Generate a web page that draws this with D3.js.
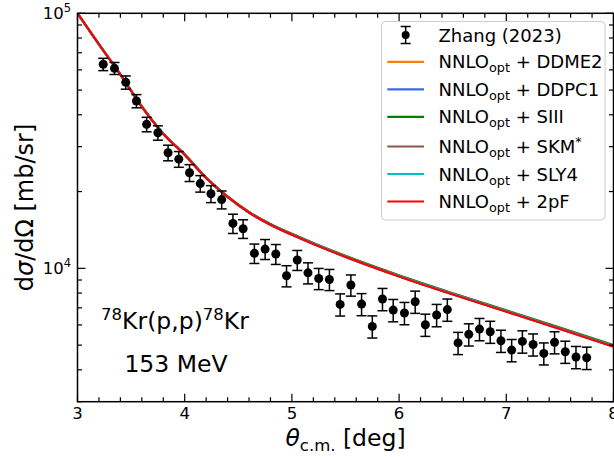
<!DOCTYPE html>
<html><head><meta charset="utf-8">
<script src="https://cdn.jsdelivr.net/npm/d3@7"></script>
<style>
html,body{margin:0;padding:0;background:#fff;overflow:hidden}
svg{display:block;font-family:"DejaVu Sans",sans-serif}
</style></head>
<body><svg id="c" width="614" height="457"></svg>
<script>
// ---- data ----
const expAngle = [3.24,3.345,3.45,3.55,3.645,3.75,3.845,3.945,4.045,4.145,4.245,4.345,4.45,4.545,4.65,4.75,4.85,4.95,5.05,5.15,5.25,5.35,5.45,5.55,5.65,5.75,5.845,5.945,6.05,6.15,6.245,6.35,6.45,6.55,6.65,6.75,6.85,6.95,7.05,7.15,7.25,7.35,7.45,7.55,7.65,7.75];
const expXs = [63100,60850,53600,45300,36700,34000,28400,26800,23700,21500,19600,18600,15000,14300,11450,11900,11380,9350,10780,9600,9120,9040,7220,8600,7240,5920,7580,6860,6680,7400,6010,6560,6890,5100,5510,5780,5640,5200,4780,5170,5030,4640,5130,4710,4490,4460];
const expErr = [3500,3300,3200,2700,2400,2200,2000,1900,1800,1600,1500,1500,1300,1200,1000,1070,1020,890,970,910,870,860,720,820,720,590,760,690,670,740,600,660,690,510,550,580,560,520,480,520,500,460,510,470,450,450];

const thAngle = [3.0,3.2,3.4,3.6,3.8,4.0,4.2,4.4,4.6,4.8,5.0,5.2,5.5,6.0,6.5,7.0,7.5,8.0];
const xsDDME2 = [100000,75600,57600,43100,33700,27950,22650,19100,16600,14880,13600,12520,11140,9340,7940,6800,5810,4960];
const xsDDPC1 = [100000,75400,57400,42950,33600,27850,22550,19000,16500,14800,13530,12460,11080,9300,7910,6770,5790,4940];
const xsSIII  = [100000,75700,57700,43200,33800,28000,22700,19150,16650,14930,13650,12570,11190,9390,7990,6850,5860,5000];
const xsSKM   = [100000,75650,57650,43150,33750,27980,22680,19120,16620,14900,13620,12540,11160,9360,7960,6820,5830,4970];
const xsSLY4  = [100000,75550,57550,43050,33680,27920,22630,19080,16580,14860,13580,12500,11120,9320,7930,6790,5800,4950];
const xs2pF   = [100000,75500,57500,43000,33650,27900,22600,19050,16550,14830,13550,12470,11090,9290,7900,6760,5780,4930];

const seriesNames = ["DDME2","DDPC1","SIII","SKM","SLY4","2pF"];
const seriesColors = ["#ff7f0e","#4169e1","#008000","#8c564b","#00bfbf","#ff0000"];
const seriesValues = [xsDDME2,xsDDPC1,xsSIII,xsSKM,xsSLY4,xs2pF];

const xTicks = [3,4,5,6,7,8];
const yMajor = [1e4,1e5];
const expLabel = "Zhang (2023)";

// ---- layout ----
const svg = d3.select("#c");
const L=77.5, R=613.5, T=13.3, B=401.7;
const x = d3.scaleLinear().domain([3,8]).range([L,R]);
const y = d3.scaleLog().domain([3000,1e5]).range([B,T]);

svg.append("defs").append("clipPath").attr("id","clip")
  .append("rect").attr("x",L).attr("y",T).attr("width",R-L).attr("height",B-T);

// theory curves
const line = d3.line().x(d=>x(d[0])).y(d=>y(d[1])).curve(d3.curveMonotoneX);
const gCurves = svg.append("g").attr("clip-path","url(#clip)");
seriesValues.forEach((vals,i)=>{
  gCurves.append("path")
    .datum(thAngle.map((a,j)=>[a,vals[j]]))
    .attr("d",line).attr("fill","none")
    .attr("stroke",seriesColors[i]).attr("stroke-width",2.2);
});

// experimental data
const gExp = svg.append("g");
expAngle.forEach((a,i)=>{
  const cx=x(a), v=expXs[i], e=expErr[i];
  const y1=y(v+e), y2=y(v-e);
  gExp.append("line").attr("x1",cx).attr("x2",cx).attr("y1",y1).attr("y2",y2).attr("stroke","#000").attr("stroke-width",1.5);
  [y1,y2].forEach(yy=>gExp.append("line").attr("x1",cx-5).attr("x2",cx+5).attr("y1",yy).attr("y2",yy).attr("stroke","#000").attr("stroke-width",1.5));
  gExp.append("circle").attr("cx",cx).attr("cy",y(v)).attr("r",4.5).attr("fill","#000");
});

// axes frame & ticks
const ax = svg.append("g");
ax.append("rect").attr("x",L).attr("y",T).attr("width",R-L).attr("height",B-T)
  .attr("fill","none").attr("stroke","#000").attr("stroke-width",1.5);

const xMinor = d3.range(3,8.001,0.2).filter(v=>Math.abs(v-Math.round(v))>1e-6);
function tickX(v,len){
  ax.append("line").attr("x1",x(v)).attr("x2",x(v)).attr("y1",B).attr("y2",B-len).attr("stroke","#000").attr("stroke-width",1.2);
  ax.append("line").attr("x1",x(v)).attr("x2",x(v)).attr("y1",T).attr("y2",T+len).attr("stroke","#000").attr("stroke-width",1.2);
}
xTicks.forEach(v=>tickX(v,8));
xMinor.forEach(v=>tickX(v,4.5));
xTicks.forEach(v=>{
  ax.append("text").attr("x",x(v)).attr("y",419).attr("text-anchor","middle")
    .attr("font-size",16.5).text(v);
});

const yMinor = [];
[1e3,1e4].forEach(dec=>{for(let k=2;k<=9;k++){const v=k*dec; if(v>=3000&&v<=1e5) yMinor.push(v);}});
function tickY(v,len){
  ax.append("line").attr("x1",L).attr("x2",L+len).attr("y1",y(v)).attr("y2",y(v)).attr("stroke","#000").attr("stroke-width",1.2);
  ax.append("line").attr("x1",R).attr("x2",R-len).attr("y1",y(v)).attr("y2",y(v)).attr("stroke","#000").attr("stroke-width",1.2);
}
yMajor.forEach(v=>tickY(v,8));
yMinor.forEach(v=>tickY(v,4.5));
yMajor.forEach(v=>{
  const t = ax.append("text").attr("x",71).attr("y",y(v)+6).attr("text-anchor","end").attr("font-size",16.5);
  t.append("tspan").text("10");
  t.append("tspan").attr("font-size",11.5).attr("dy",-7).text(Math.round(Math.log10(v)));
});

// axis labels
const xl = svg.append("text").attr("x",(L+R)/2).attr("y",446).attr("text-anchor","middle").attr("font-size",23.5);
xl.append("tspan").attr("font-style","italic").text("θ");
xl.append("tspan").attr("font-size",16.5).attr("dy",5).text("c.m.");
xl.append("tspan").attr("dy",-5).text(" [deg]");

const yl = svg.append("text").attr("transform",`translate(33,${(T+B)/2}) rotate(-90)`)
  .attr("text-anchor","middle").attr("font-size",24);
yl.append("tspan").text("d");
yl.append("tspan").attr("font-style","italic").text("σ");
yl.append("tspan").text("/dΩ [mb/sr]");

// annotation
const a1 = svg.append("text").attr("x",175).attr("y",329).attr("text-anchor","middle").attr("font-size",23.5);
a1.append("tspan").attr("font-size",16.5).attr("dy",-9).text("78");
a1.append("tspan").attr("dy",9).text("Kr(p,p)");
a1.append("tspan").attr("font-size",16.5).attr("dy",-9).text("78");
a1.append("tspan").attr("dy",9).text("Kr");
svg.append("text").attr("x",176).attr("y",372).attr("text-anchor","middle").attr("font-size",23.5).text("153 MeV");

// legend
const lg = svg.append("g");
lg.append("rect").attr("x",381.5).attr("y",21.5).attr("width",223.5).attr("height",198.5).attr("rx",4)
  .attr("fill","#fff").attr("fill-opacity",0.8).attr("stroke","#cccccc").attr("stroke-width",1);
const rowY = [35,61.8,89.3,116.8,146.5,174,201.5];
const hx1=387.3, hx2=424, tx=438.5, fs=18;
// errorbar handle
const hcx=(hx1+hx2)/2;
lg.append("line").attr("x1",hcx).attr("x2",hcx).attr("y1",rowY[0]-8.5).attr("y2",rowY[0]+8.5).attr("stroke","#000").attr("stroke-width",1.5);
[rowY[0]-8.5,rowY[0]+8.5].forEach(yy=>lg.append("line").attr("x1",hcx-5).attr("x2",hcx+5).attr("y1",yy).attr("y2",yy).attr("stroke","#000").attr("stroke-width",1.5));
lg.append("circle").attr("cx",hcx).attr("cy",rowY[0]).attr("r",4).attr("fill","#000");
lg.append("text").attr("x",tx).attr("y",rowY[0]+6.5).attr("font-size",fs).text(expLabel);
seriesNames.forEach((n,i)=>{
  const yy=rowY[i+1];
  lg.append("line").attr("x1",hx1).attr("x2",hx2).attr("y1",yy).attr("y2",yy).attr("stroke",seriesColors[i]).attr("stroke-width",2.2);
  const t = lg.append("text").attr("x",tx).attr("y",yy+6.5).attr("font-size",fs);
  t.append("tspan").text("NNLO");
  t.append("tspan").attr("font-size",12.8).attr("dy",4).text("opt");
  t.append("tspan").attr("dy",-4).text(" + " + n);
  if(n==="SKM") t.append("tspan").attr("font-size",12.8).attr("dy",-7).text("*");
});
</script></body></html>
